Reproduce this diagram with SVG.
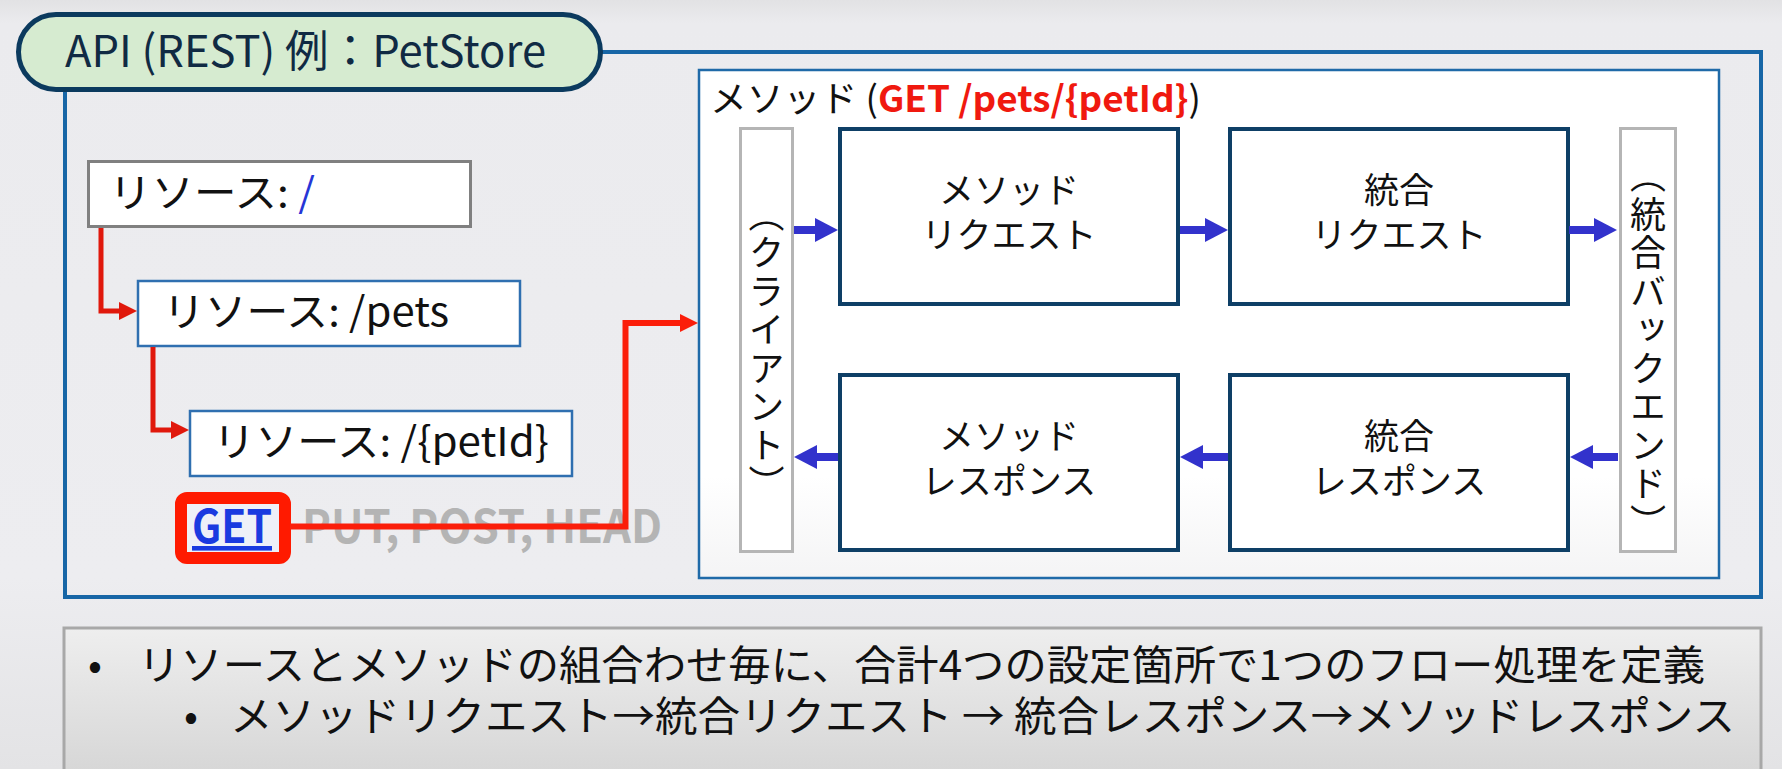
<svg xmlns="http://www.w3.org/2000/svg" width="1782" height="769" viewBox="0 0 1782 769">
<defs>
<linearGradient id="bg" x1="0" y1="0" x2="0" y2="1">
<stop offset="0" stop-color="#e2e2e4"/>
<stop offset="0.03" stop-color="#ebebee"/>
<stop offset="0.75" stop-color="#ededf0"/>
<stop offset="1" stop-color="#e3e3e5"/>
</linearGradient>
<linearGradient id="panel" x1="0" y1="0" x2="0" y2="1">
<stop offset="0" stop-color="#eeeeee"/>
<stop offset="1" stop-color="#d4d4d4"/>
</linearGradient>
<linearGradient id="inner" x1="0" y1="0" x2="0" y2="1">
<stop offset="0" stop-color="#ffffff"/>
<stop offset="0.8" stop-color="#ffffff"/>
<stop offset="1" stop-color="#f4f4f5"/>
</linearGradient>
<marker id="ab" markerUnits="userSpaceOnUse" markerWidth="23" markerHeight="24" refX="4" refY="12" orient="auto" viewBox="0 0 23 24">
<path d="M0,0 L23,12 L0,24 z" fill="#3232cc"/>
</marker>
<marker id="ar" markerUnits="userSpaceOnUse" markerWidth="18" markerHeight="18" refX="3" refY="9" orient="auto" viewBox="0 0 18 18">
<path d="M0,0 L18,9 L0,18 z" fill="#e0180c"/>
</marker>
<marker id="ar2" markerUnits="userSpaceOnUse" markerWidth="18" markerHeight="18" refX="3" refY="9" orient="auto" viewBox="0 0 18 18">
<path d="M0,0 L18,9 L0,18 z" fill="#fb1e0a"/>
</marker>
</defs>
<style>
text { font-family: "Noto Sans CJK JP", "Noto Sans", sans-serif; fill:#111; }
.res rect { fill:#fff; }
.res text { font-size:40px; }
.flow rect { fill:#fff; stroke:#0e3f66; stroke-width:4; }
.flow text { font-size:35px; text-anchor:middle; }
.side rect { fill:#fff; stroke:#b5b5b5; stroke-width:3; }
.side text { font-size:36px; writing-mode:vertical-rl; text-anchor:middle; letter-spacing:2.5px; }
.blue { stroke:#3232cc; stroke-width:8; fill:none; marker-end:url(#ab); }
.red { stroke:#e0180c; stroke-width:5; fill:none; marker-end:url(#ar); stroke-linejoin:miter; }
.red2 { stroke:#fb1e0a; stroke-width:6; fill:none; marker-end:url(#ar2); stroke-linejoin:miter; }
.bul { font-size:41px; }
</style>

<rect x="0" y="0" width="1782" height="769" fill="url(#bg)"/>

<!-- outer frame -->
<g id="api-frame">
<rect x="65" y="52" width="1696" height="545" fill="none" stroke="#1766a6" stroke-width="4"/>
</g>

<!-- title pill -->
<g id="title">
<rect x="18.5" y="14.5" width="582" height="75" rx="37.5" ry="37.5" fill="#d6ebd0" stroke="#0b3a5e" stroke-width="5"/>
<text x="65" y="67" font-size="44" style="fill:#102a43" textLength="481" lengthAdjust="spacingAndGlyphs">API (REST) 例：PetStore</text>
</g>

<!-- method frame -->
<g id="method-frame">
<rect x="699" y="70" width="1020" height="508" fill="url(#inner)" stroke="#1f6aa8" stroke-width="2.5"/>
<text x="710" y="112" font-size="36" textLength="491" lengthAdjust="spacingAndGlyphs">メソッド (<tspan font-weight="bold" style="fill:#f0190f">GET /pets/{petId}</tspan>)</text>
</g>

<!-- resources -->
<g id="resource-root" class="res">
<rect x="88.5" y="161.5" width="382" height="65" stroke="#808080" stroke-width="3"/>
<text x="109" y="207" textLength="206" lengthAdjust="spacingAndGlyphs">リソース: <tspan style="fill:#2636d6">/</tspan></text>
</g>
<g id="resource-pets" class="res">
<rect x="138" y="281" width="382" height="65" stroke="#2f6fb0" stroke-width="2.5"/>
<text x="163" y="326" textLength="286" lengthAdjust="spacingAndGlyphs">リソース: /pets</text>
</g>
<g id="resource-petid" class="res">
<rect x="190" y="411" width="382" height="65" stroke="#2f6fb0" stroke-width="2.5"/>
<text x="213" y="456" textLength="336" lengthAdjust="spacingAndGlyphs">リソース: /{petId}</text>
</g>

<!-- HTTP methods -->
<g id="methods">
<rect x="181" y="498" width="104" height="60" rx="6" ry="6" fill="#eef0f8" stroke="#ff1a00" stroke-width="12"/>
<text x="192" y="543" font-size="46" font-weight="bold" style="fill:#1a3ae0" text-decoration="underline" textLength="80" lengthAdjust="spacingAndGlyphs">GET</text>
<text x="302" y="543" font-size="46" font-weight="bold" style="fill:#b4b4b4" textLength="360" lengthAdjust="spacingAndGlyphs">PUT, POST, HEAD</text>
</g>

<!-- client / backend -->
<g id="client" class="side">
<rect x="740.5" y="128.5" width="52" height="423"/>
<text x="766.5" y="350">（クライアント）</text>
</g>
<g id="backend" class="side">
<rect x="1620.5" y="128.5" width="55" height="423"/>
<text x="1648" y="350">（統合バックエンド）</text>
</g>

<!-- flow boxes -->
<g id="method-request" class="flow">
<rect x="840" y="129" width="338" height="175"/>
<text><tspan x="1009" y="203">メソッド</tspan><tspan x="1009" y="248">リクエスト</tspan></text>
</g>
<g id="integration-request" class="flow">
<rect x="1230" y="129" width="338" height="175"/>
<text><tspan x="1399" y="203">統合</tspan><tspan x="1399" y="248">リクエスト</tspan></text>
</g>
<g id="method-response" class="flow">
<rect x="840" y="375" width="338" height="175"/>
<text><tspan x="1009" y="449">メソッド</tspan><tspan x="1009" y="494">レスポンス</tspan></text>
</g>
<g id="integration-response" class="flow">
<rect x="1230" y="375" width="338" height="175"/>
<text><tspan x="1399" y="449">統合</tspan><tspan x="1399" y="494">レスポンス</tspan></text>
</g>

<!-- connectors -->
<g id="connectors">
<path class="red" d="M101,228 V311 H122"/>
<path class="red" d="M153,347 V430 H174"/>
<path class="red2" d="M290,526.5 H625.5 V323 H683"/>
<path class="blue" d="M794,230 H819"/>
<path class="blue" d="M1180,230 H1209"/>
<path class="blue" d="M1569,230 H1598"/>
<path class="blue" d="M1618,457 H1589"/>
<path class="blue" d="M1228,457 H1199"/>
<path class="blue" d="M838,457 H813"/>
</g>

<!-- summary panel -->
<g id="summary">
<rect x="64" y="628" width="1697" height="160" fill="url(#panel)" stroke="#a8a8a8" stroke-width="3"/>
<text class="bul"><tspan x="88" y="680">•</tspan><tspan x="138" y="680" textLength="1567" lengthAdjust="spacingAndGlyphs">リソースとメソッドの組合わせ毎に、合計4つの設定箇所で1つのフロー処理を定義</tspan><tspan x="184" y="731">•</tspan><tspan x="230" y="731" textLength="1505" lengthAdjust="spacingAndGlyphs">メソッドリクエスト→統合リクエスト → 統合レスポンス→メソッドレスポンス</tspan></text>
</g>
</svg>
